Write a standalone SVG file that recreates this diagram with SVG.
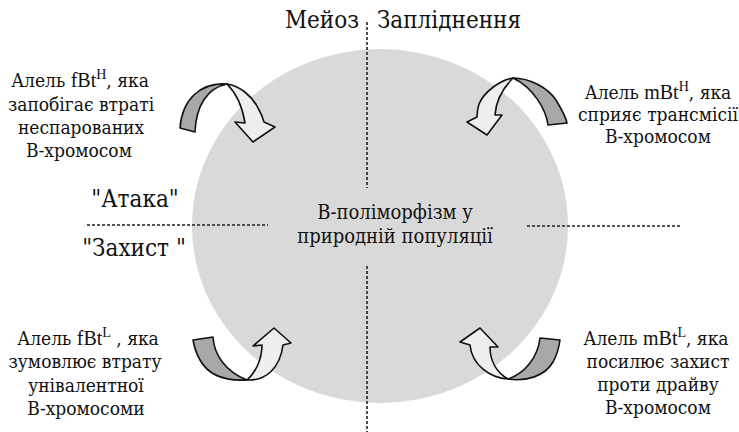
<svg xmlns="http://www.w3.org/2000/svg" width="739" height="432" viewBox="0 0 739 432">
<style>
text{fill:#111;text-anchor:middle}
.lbl{font-size:19px}
.big{font-size:24px}
.ctr{font-size:20px}
.sup{font-size:14px;font-family:"Liberation Serif",serif}
.lat{font-family:"Liberation Serif",serif;font-size:20px}
.dash{stroke:#222;stroke-width:1.6;stroke-dasharray:3 2;fill:none}
.dark{fill:#a8a8a8;stroke:#111;stroke-width:1.6;stroke-linejoin:round}
.light{fill:#eeeeee;stroke:#111;stroke-width:1.6;stroke-linejoin:round}
</style>
<rect width="739" height="432" fill="#fff"/>
<g font-family="DejaVu Serif Condensed, DejaVu Serif, serif">
<g id="population">
<ellipse cx="380" cy="226" rx="188" ry="177" fill="#d9d9d9"/>
<text class="ctr" x="395" y="219">В-поліморфізм у</text>
<text class="ctr" x="395" y="243">природній популяції</text>
</g>
<g id="dividers">
<line class="dash" x1="367" y1="22" x2="367" y2="188"/>
<line class="dash" x1="367" y1="266" x2="367" y2="432"/>
<line class="dash" x1="87" y1="225" x2="268" y2="225"/>
<line class="dash" x1="527" y1="226" x2="682" y2="226"/>
</g>
<g id="axis-labels">
<text class="big" x="322" y="28">Мейоз</text>
<text class="big" x="449" y="28">Запліднення</text>
<text class="big" x="135" y="207">"Атака"</text>
<text class="big" x="134" y="256">"Захист "</text>
</g>
<g id="connectors">
<g id="arrow-tl">
<path class="dark" d="M180,128 C182,100 200,82 227,84 C207,88 196,106 195,132 Z"/>
<path class="light" d="M227,84 C240,86 252,96 258,108 C262,115 263,118 264,122 L275,127 L253,142 L235,122 L245,123 C243,110 238,95 227,84 Z"/>
</g>
<g id="arrow-tr">
<path class="dark" d="M513,78 C530,78 548,88 556,100 C562,110 566,117 567,123 L548,125 C546,110 534,88 513,78 Z"/>
<path class="light" d="M513,78 C500,80 484,92 479,104 C477,110 477,114 477,117 L467,122 L487,135 L502,115 L495,115 C496,100 503,88 513,78 Z"/>
</g>
<g id="arrow-bl">
<path class="dark" d="M193,340 L213,337 C214,355 226,372 247,380 C230,381 210,378 200,360 C196,353 194,346 193,340 Z"/>
<path class="light" d="M247,380 C266,381 280,368 283,345 L291,343 L274,328 L253,346 L262,345 C262,360 255,373 247,380 Z"/>
</g>
<g id="arrow-br">
<path class="dark" d="M560,340 L540,338 C538,356 526,373 508,379 C526,382 545,376 553,362 C557,355 559,347 560,340 Z"/>
<path class="light" d="M508,379 C490,378 472,365 470,345 L460,342 L480,328 L498,347 L490,347 C490,360 496,372 508,379 Z"/>
</g>
</g>
<g id="fBtH">
<text class="lbl" x="80" y="87">Алель <tspan class="lat">fBt</tspan><tspan class="sup" dy="-8">H</tspan><tspan dy="8">, яка</tspan></text>
<text class="lbl" x="81" y="111">запобігає втраті</text>
<text class="lbl" x="81" y="134">неспарованих</text>
<text class="lbl" x="79" y="157">В-хромосом</text>
</g>
<g id="mBtH">
<text class="lbl" x="658" y="99">Алель <tspan class="lat">mBt</tspan><tspan class="sup" dy="-8">H</tspan><tspan dy="8">, яка</tspan></text>
<text class="lbl" x="658" y="121">сприяє трансмісії</text>
<text class="lbl" x="658" y="143">В-хромосом</text>
</g>
<g id="fBtL">
<text class="lbl" x="88" y="345">Алель <tspan class="lat">fBt</tspan><tspan class="sup" dy="-8">L</tspan><tspan dy="8"> , яка</tspan></text>
<text class="lbl" x="85" y="368">зумовлює втрату</text>
<text class="lbl" x="86" y="392">унівалентної</text>
<text class="lbl" x="86" y="415">В-хромосоми</text>
</g>
<g id="mBtL">
<text class="lbl" x="656" y="345">Алель  <tspan class="lat">mBt</tspan><tspan class="sup" dy="-8">L</tspan><tspan dy="8">, яка</tspan></text>
<text class="lbl" x="658" y="368">посилює захист</text>
<text class="lbl" x="658" y="391">проти драйву</text>
<text class="lbl" x="658" y="414">В-хромосом</text>
</g>
</g>
</svg>
